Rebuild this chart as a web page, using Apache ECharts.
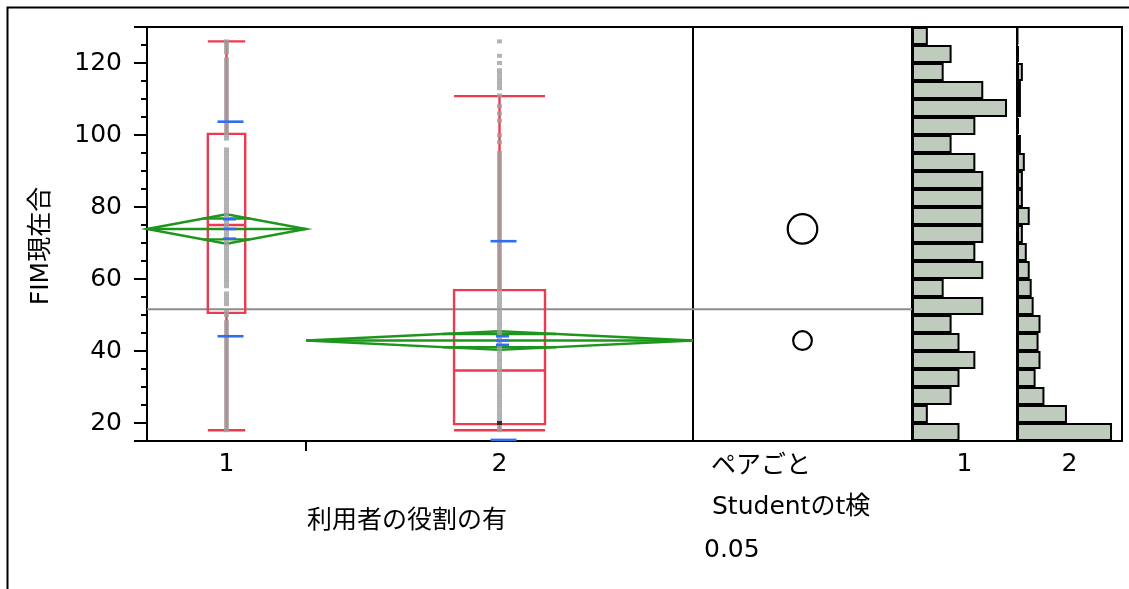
<!DOCTYPE html>
<html><head><meta charset="utf-8">
<script src="https://cdn.jsdelivr.net/npm/echarts@6/dist/echarts.min.js"></script>
<style>html,body{margin:0;padding:0;background:#fff}#c{width:1129px;height:589px}</style>
</head><body><div id="c"></div>
<script>
// ---------------- data ----------------
const categories = ['1', '2'];
const yAxisTitle = 'FIM現在合';
const xAxisTitle = '利用者の役割の有';
const compareLabel = 'ペアごと';
const testLabel = 'Studentのt検';
const alphaLabel = '0.05';

const q1 = [50.6, 19.7];
const median = [75.0, 34.6];
const q3 = [100.3, 56.9];
const whiskerLow = [18, 18];
const whiskerHigh = [126, 110.8];
const means = [73.9, 42.9];
const ciHalf = [4.1, 2.6];
const stdDev = [29.8, 27.6];
const stdErr = [2.7, 1.2];
const grandMean = 51.6;

const yLabelTicks = [20, 40, 60, 80, 100, 120];
const yMajorTicks = [15, 20, 40, 60, 80, 100, 120, 130];
const yMinorTicks = [25, 30, 35, 45, 50, 55, 65, 70, 75, 85, 90, 95, 105, 110, 115, 125];
const yMin = 15, yMax = 130;

// histogram bins (bottom to top, bin start values)
const binStarts = [15, 20, 25, 30, 35, 40, 45, 50, 55, 60, 65, 70, 75, 80, 85, 90, 95, 100, 105, 110, 115, 120, 125];
const hist1 = [6, 2, 5, 6, 8, 6, 5, 9, 4, 9, 8, 9, 9, 9, 9, 8, 5, 8, 12, 9, 4, 5, 2];
const hist2 = [97, 51, 28, 19, 24, 22, 24, 17, 15, 13, 10, 6, 13, 6, 6, 8, 4, 2, 4, 4, 6, 2, 1];

const group1Values = [18,19,20,21,22,23,24,25,26,27,28,29,30,31,32,33,34,35,36,37,38,39,40,41,42,43,44,45,46,47,48,50,51,53,54,55,56,58,59,60,61,62,63,64,65,66,67,68,69,70,71,72,73,74,75,76,77,78,79,80,81,82,83,84,85,86,87,88,89,90,91,92,93,94,95,96,99,100,101,102,103,104,105,106,107,108,109,110,111,112,113,114,115,116,117,118,119,120,121,123,124,125,126];
const group2Values = [18,19,20,21,22,23,24,25,26,27,28,29,30,31,32,33,34,35,36,37,38,39,40,41,42,43,44,45,46,47,48,49,50,51,52,53,54,55,56,57,58,59,60,61,62,63,64,65,66,67,68,69,70,71,72,73,74,75,76,77,78,79,80,81,82,83,84,85,86,87,88,89,90,91,92,93,94,95,98,100,104,106,108,111,113,114,115,116,117,118,120,122,126];
const group2Dark = [20];

// ---------------- styles ----------------
const FONT = '"DejaVu Sans","Noto Sans CJK JP",sans-serif';
const FS = 25;
const TXT = '#000';
const RED = '#EE3A50', GREEN = '#1E961E', BLUE = '#2F6FEF', GRAY = '#A0A0A0', MEANLINE = '#8C8C8C';
const BOX_FRAC = 0.235;
const LW = 2.4;

const sum = a => a.reduce((s, v) => s + v, 0);
const groupN = [sum(hist1), sum(hist2)];
const groupStart = [0, groupN[0]];
const total = groupN[0] + groupN[1];
const center = g => groupStart[g] + groupN[g] / 2;

function ln(x1, y1, x2, y2, color, w) {
  return { type: 'line', shape: { x1, y1, x2, y2 }, style: { stroke: color, lineWidth: w } };
}

function boxRender(params, api) {
  const g = api.value(0);
  const cx = center(g), hw = groupN[g] * BOX_FRAC / 2;
  const xl = api.coord([cx - hw, 0])[0], xr = api.coord([cx + hw, 0])[0], xc = api.coord([cx, 0])[0];
  const Y = v => api.coord([cx, v])[1];
  return { type: 'group', children: [
    { type: 'rect', shape: { x: xl, y: Y(q3[g]), width: xr - xl, height: Y(q1[g]) - Y(q3[g]) }, style: { fill: 'none', stroke: RED, lineWidth: LW } },
    ln(xl, Y(median[g]), xr, Y(median[g]), RED, LW),
    ln(xc, Y(q3[g]), xc, Y(whiskerHigh[g]), RED, LW),
    ln(xc, Y(q1[g]), xc, Y(whiskerLow[g]), RED, LW),
    ln(xl, Y(whiskerHigh[g]), xr, Y(whiskerHigh[g]), RED, LW),
    ln(xl, Y(whiskerLow[g]), xr, Y(whiskerLow[g]), RED, LW)
  ]};
}

function diamondRender(params, api) {
  const g = api.value(0);
  const cx = center(g);
  const xl = api.coord([groupStart[g], 0])[0], xr = api.coord([groupStart[g] + groupN[g], 0])[0], xc = api.coord([cx, 0])[0];
  const Y = v => api.coord([cx, v])[1];
  const m = means[g], h = ciHalf[g];
  const ov = h / Math.SQRT2, frac = 1 - 1 / Math.SQRT2;
  const hwPix = (xr - xl) / 2 * frac;
  return { type: 'group', children: [
    { type: 'polygon', shape: { points: [[xl, Y(m)], [xc, Y(m + h)], [xr, Y(m)], [xc, Y(m - h)]] }, style: { fill: 'none', stroke: GREEN, lineWidth: LW } },
    ln(xl, Y(m), xr, Y(m), GREEN, LW),
    ln(xc - hwPix, Y(m + ov), xc + hwPix, Y(m + ov), GREEN, LW),
    ln(xc - hwPix, Y(m - ov), xc + hwPix, Y(m - ov), GREEN, LW)
  ]};
}

function blueRender(params, api) {
  const g = api.value(0);
  const xc = api.coord([center(g), 0])[0];
  const Y = v => api.coord([center(g), v])[1];
  const m = means[g];
  const sdX = xc + 4, seX = xc + 3;
  return { type: 'group', children: [
    ln(sdX - 13, Y(m + stdDev[g]), sdX + 13, Y(m + stdDev[g]), BLUE, 2.6),
    ln(sdX - 13, Y(m - stdDev[g]), sdX + 13, Y(m - stdDev[g]), BLUE, 2.6),
    ln(seX - 6.5, Y(m + stdErr[g]), seX + 6.5, Y(m + stdErr[g]), BLUE, 2.6),
    ln(seX - 6.5, Y(m), seX + 6.5, Y(m), BLUE, 2.6),
    ln(seX - 6.5, Y(m - stdErr[g]), seX + 6.5, Y(m - stdErr[g]), BLUE, 2.6)
  ]};
}

function grandMeanRender(xmax) {
  return function (params, api) {
    const p1 = api.coord([0, grandMean]), p2 = api.coord([xmax, grandMean]);
    return ln(p1[0], p1[1], p2[0], p2[1], MEANLINE, 2);
  };
}

function circleRender(params, api) {
  const g = api.value(0);
  const c = api.coord([0.5, means[g]]);
  const r = api.size([0, ciHalf[g]])[1];
  return { type: 'circle', shape: { cx: c[0], cy: c[1], r }, style: { fill: 'none', stroke: '#000', lineWidth: 2.2 } };
}

const pts1 = group1Values.map(v => [center(0), v]);
const pts2 = group2Values.map(v => [center(1), v]);
const ptsDark = group2Dark.map(v => [center(1), v]);

const textStyle = { fontFamily: FONT, fontSize: FS, color: TXT };
const gridBase = { top: 27, height: 414, show: true, borderColor: '#000', borderWidth: 2, backgroundColor: 'transparent' };
const hiddenAxis = { axisLine: { show: false }, axisTick: { show: false }, axisLabel: { show: false }, splitLine: { show: false } };

const option = {
  animation: false,
  backgroundColor: '#fff',
  grid: [
    Object.assign({ left: 147, width: 546 }, gridBase),
    Object.assign({ left: 693, width: 219 }, gridBase),
    Object.assign({ left: 912, width: 105 }, gridBase),
    Object.assign({ left: 1017, width: 105 }, gridBase)
  ],
  xAxis: [
    { type: 'value', gridIndex: 0, min: 0, max: total, splitLine: { show: false },
      axisLine: { show: true, lineStyle: { color: '#000', width: 2 } },
      axisTick: { show: true, customValues: [groupN[0]], length: 10, lineStyle: { color: '#000', width: 2 } },
      axisLabel: { show: true, customValues: [center(0), center(1)], formatter: v => (v < groupN[0] ? categories[0] : categories[1]), margin: 11, fontFamily: FONT, fontSize: FS, color: TXT } },
    Object.assign({ type: 'value', gridIndex: 1, min: 0, max: 1 }, hiddenAxis),
    Object.assign({ type: 'value', gridIndex: 2, min: 0, max: Math.max(...hist1) * 1.105,
      name: categories[0], nameLocation: 'middle', nameGap: 11, nameTextStyle: textStyle }, hiddenAxis),
    Object.assign({ type: 'value', gridIndex: 3, min: 0, max: Math.max(...hist2) * 1.105,
      name: categories[1], nameLocation: 'middle', nameGap: 11, nameTextStyle: textStyle }, hiddenAxis)
  ],
  yAxis: [
    { type: 'value', gridIndex: 0, min: yMin, max: yMax, position: 'left', splitLine: { show: false },
      axisLine: { show: true, lineStyle: { color: '#000', width: 2 } },
      axisTick: { show: true, customValues: yMajorTicks, length: 13, lineStyle: { color: '#000', width: 2 } },
      axisLabel: { show: true, customValues: yLabelTicks, margin: 25, fontFamily: FONT, fontSize: FS, color: TXT } },
    { type: 'value', gridIndex: 0, min: yMin, max: yMax, position: 'left', splitLine: { show: false },
      axisLine: { show: false }, axisLabel: { show: false },
      axisTick: { show: true, customValues: yMinorTicks, length: 6, lineStyle: { color: '#000', width: 2 } } },
    Object.assign({ type: 'value', gridIndex: 1, min: yMin, max: yMax }, hiddenAxis),
    Object.assign({ type: 'category', gridIndex: 2, data: binStarts, boundaryGap: true }, hiddenAxis),
    Object.assign({ type: 'category', gridIndex: 3, data: binStarts, boundaryGap: true }, hiddenAxis)
  ],
  series: [
    { type: 'custom', name: 'grandMean', xAxisIndex: 0, yAxisIndex: 0, z: 1, data: [[0]], renderItem: grandMeanRender(total), silent: true },
    { type: 'custom', name: 'grandMean2', xAxisIndex: 1, yAxisIndex: 2, z: 1, data: [[0]], renderItem: grandMeanRender(1), silent: true },
    { type: 'custom', name: 'box', xAxisIndex: 0, yAxisIndex: 0, z: 2, data: [[0], [1]], renderItem: boxRender },
    { type: 'custom', name: 'diamond', xAxisIndex: 0, yAxisIndex: 0, z: 3, data: [[0], [1]], renderItem: diamondRender },
    { type: 'scatter', name: 'g1', xAxisIndex: 0, yAxisIndex: 0, z: 4, data: pts1, symbol: 'rect', symbolSize: [5, 4], itemStyle: { color: GRAY } },
    { type: 'scatter', name: 'g2', xAxisIndex: 0, yAxisIndex: 0, z: 4, data: pts2, symbol: 'rect', symbolSize: [5, 4], itemStyle: { color: GRAY } },
    { type: 'scatter', name: 'g2dark', xAxisIndex: 0, yAxisIndex: 0, z: 4, data: ptsDark, symbol: 'rect', symbolSize: [5, 4], itemStyle: { color: '#111' } },
    { type: 'custom', name: 'blue', xAxisIndex: 0, yAxisIndex: 0, z: 5, data: [[0], [1]], renderItem: blueRender },
    { type: 'custom', name: 'circles', xAxisIndex: 1, yAxisIndex: 2, z: 5, data: [[0], [1]], renderItem: circleRender },
    { type: 'bar', name: 'h1', xAxisIndex: 2, yAxisIndex: 3, data: hist1, barCategoryGap: '0%', barWidth: '100%',
      itemStyle: { color: '#BECBBD', borderColor: '#000', borderWidth: 2 } },
    { type: 'bar', name: 'h2', xAxisIndex: 3, yAxisIndex: 4, data: hist2, barCategoryGap: '0%', barWidth: '100%',
      itemStyle: { color: '#BECBBD', borderColor: '#000', borderWidth: 2 } }
  ],
  graphic: [
    { type: 'rect', shape: { x: 7.5, y: 7.5, width: 1300, height: 700 }, style: { fill: 'none', stroke: '#000', lineWidth: 2 }, silent: true },
    { type: 'text', x: 41, y: 246, rotation: Math.PI / 2, style: { text: yAxisTitle, font: FS + 'px ' + FONT, fill: TXT, align: 'center', verticalAlign: 'middle' } },
    { type: 'text', x: 407, y: 521, style: { text: xAxisTitle, font: FS + 'px ' + FONT, fill: TXT, align: 'center', verticalAlign: 'middle' } },
    { type: 'text', x: 711, y: 466, style: { text: compareLabel, font: FS + 'px ' + FONT, fill: TXT, align: 'left', verticalAlign: 'middle' } },
    { type: 'text', x: 712, y: 507, style: { text: testLabel, font: FS + 'px ' + FONT, fill: TXT, align: 'left', verticalAlign: 'middle' } },
    { type: 'text', x: 704, y: 550, style: { text: alphaLabel, font: FS + 'px ' + FONT, fill: TXT, align: 'left', verticalAlign: 'middle' } }
  ]
};

const chart = echarts.init(document.getElementById('c'));
chart.setOption(option);
</script>
</body></html>
